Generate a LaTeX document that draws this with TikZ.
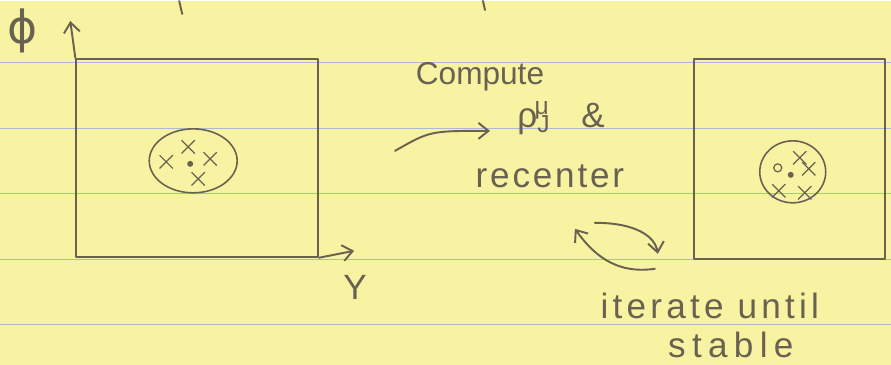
\documentclass[tikz,border=0pt]{standalone}
\usepackage{fontspec}
\setmainfont{Liberation Sans}
\newfontfamily\greekfont{DejaVu Sans}
\usetikzlibrary{arrows.meta,shapes.geometric,shapes.misc}
\definecolor{paper}{RGB}{247,243,163}
\definecolor{ruling}{RGB}{170,186,212}
\definecolor{pencil}{RGB}{105,98,80}

\begin{document}
\begin{tikzpicture}[x=0.2mm,y=-0.2mm,
    pen/.style={draw=pencil,line width=1.1pt,line cap=round,line join=round},
    frame/.style={pen,rectangle,inner sep=0pt},
    blob/.style={pen,ellipse,inner sep=0pt,line width=0.9pt},
    xmark/.style={cross out,draw=pencil,line width=0.7pt,minimum size=2.4mm,inner sep=0pt},
    dotmark/.style={circle,fill=pencil,inner sep=0pt,minimum size=1.2mm},
    hand/.style={text=pencil,font=\fontsize{20}{24}\selectfont,inner sep=0pt},
    tip/.style={-{Straight Barb[length=2mm,width=3.2mm]}}]
  % lined paper
  \fill[paper] (0,0) rectangle (891,364);
  \foreach \ly in {61,127,193,259,324}
    \draw[ruling,line width=0.4pt] (0,\ly) -- (891,\ly);
  % bits of the line above
  \draw[pen] (179,0) -- (182,13);
  \draw[pen] (483,0) -- (485,9);

  % before
  \node[frame,minimum width=48.4mm,minimum height=39.6mm] (lbox) at (197,157) {};
  \coordinate (ytop) at (70,20);
  \coordinate (xend) at (354,250);
  \draw[pen,tip] (lbox.north west) -- (ytop);
  \draw[pen,tip] (lbox.south east) -- (xend);
  \node[hand,font=\fontsize{26}{30}\greekfont] (phi) at (22,30) {ϕ};
  \node[hand] (ylab) at (355,287) {Y};
  \node[blob,minimum width=17.6mm,minimum height=12.8mm] (lblob) at (193,160) {};
  \node[dotmark] (lc) at (190,163) {};
  \node[xmark] (lx1) at (166,161) {};
  \node[xmark] (lx2) at (188,146) {};
  \node[xmark] (lx3) at (198,178) {};
  \node[xmark] (lx4) at (210,158) {};

  % step
  \node[hand,font=\fontsize{18}{22}\selectfont] (comp) at (480,76) {Compute};
  \node[hand,anchor=west] (rho) at (517,117) {ρ\textsubscript{J}\kern-0.45em\textsuperscript{μ}\hspace{0.9em}\&};
  \node[hand,font=\fontsize{20}{24}\selectfont\addfontfeature{LetterSpace=8}] (rec) at (550,175) {recenter};
  \coordinate (c0) at (395,150);
  \coordinate (c1) at (490,130);
  \draw[pen,tip] (c0) .. controls (430,130) .. (c1);
  \coordinate (u0) at (595,222);
  \coordinate (u1) at (658,253);
  \coordinate (w0) at (655,268);
  \coordinate (w1) at (575,228);
  \draw[pen,tip] (u0) .. controls (635,222) and (655,235) .. (u1);
  \draw[pen,tip] (w0) .. controls (615,274) and (592,252) .. (w1);
  \node[hand,font=\fontsize{20}{24}\selectfont\addfontfeature{LetterSpace=12}] (iter) at (710,305) {iterate until};
  \node[hand,font=\fontsize{20}{24}\selectfont\addfontfeature{LetterSpace=18}] (stab) at (731,344) {stable};

  % after
  \node[frame,minimum width=38.2mm,minimum height=40mm] (rbox) at (790,158) {};
  \node[blob,minimum width=13.2mm,minimum height=12.4mm] (rblob) at (793,171) {};
  \node[dotmark] (rc) at (791,174) {};
  \node[circle,draw=pencil,line width=0.7pt,inner sep=0pt,minimum size=1.6mm] (ro) at (778,167) {};
  \node[xmark] (rx1) at (800,157) {};
  \node[xmark] (rx2) at (809,168) {};
  \node[xmark] (rx3) at (779,190) {};
  \node[xmark] (rx4) at (805,192) {};
\end{tikzpicture}
\end{document}
